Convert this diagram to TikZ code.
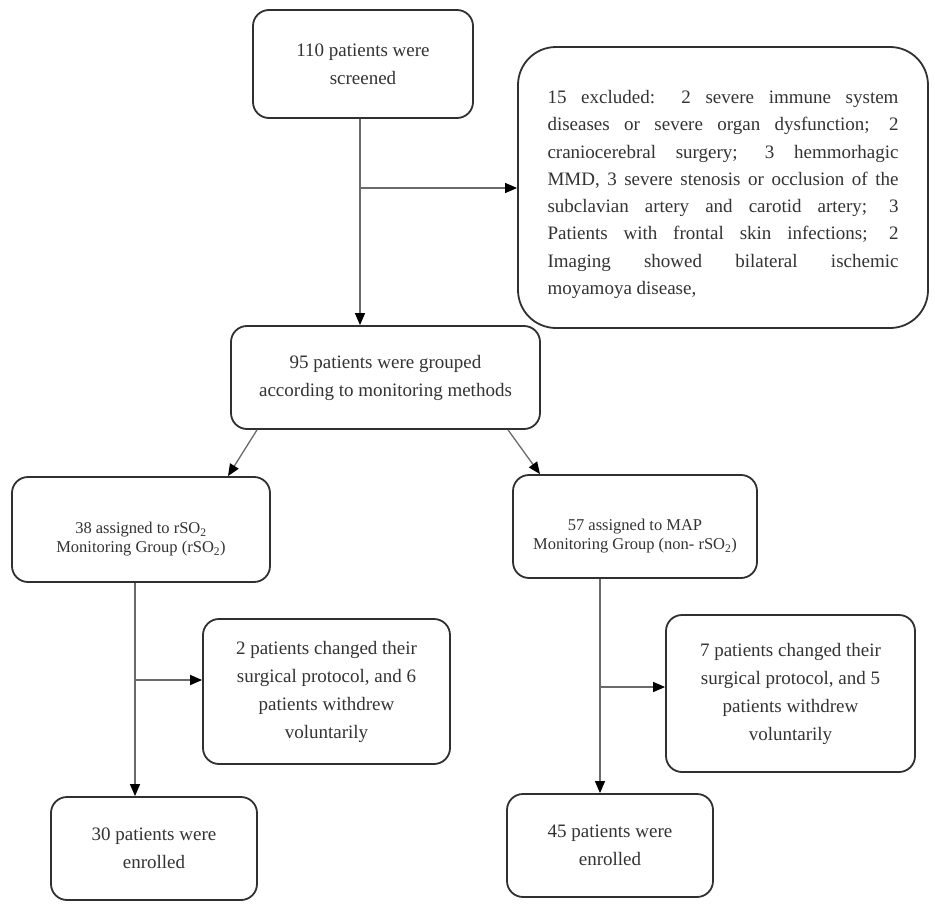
\documentclass[tikz,border=0pt]{standalone}
\usepackage{fontspec}
\setmainfont{Liberation Serif}
\usetikzlibrary{arrows.meta}
\definecolor{boxc}{HTML}{303030}
\definecolor{linec}{HTML}{6A6A6A}
\definecolor{txtc}{HTML}{333333}
\newcommand\mainfs{\fontsize{19}{28}\selectfont}
\newcommand\smallfs{\fontsize{16.5}{19}\selectfont}
\begin{document}
\begin{tikzpicture}[x=1pt,y=-1pt,
  box/.style={draw=boxc, line width=1.8pt, rounded corners=16pt, fill=white,
    align=center, font=\mainfs, text=txtc, inner sep=0pt},
  arr/.style={draw=linec, line width=1.3pt,
    -{Triangle[length=12pt,width=10pt,color=black]}},
  grp/.style={font=\smallfs, text=txtc, align=center, yshift=-10pt}]
\useasboundingbox (0,0) rectangle (935,907);

\node[box, minimum width=220pt, minimum height=108pt] (b1) at (363,64)
  {110 patients were\\screened};
\node[box, rounded corners=38pt, minimum width=410pt, minimum height=281pt,
  align=left, font=\fontsize{19}{27.3}\selectfont] (b2) at (723,187.5)
  {\rule{0pt}{27pt}\makebox[351pt][s]{15 excluded: 2 severe immune system}\\
   \makebox[351pt][s]{diseases or severe organ dysfunction; 2}\\
   \makebox[351pt][s]{craniocerebral surgery; 3 hemmorhagic}\\
   \makebox[351pt][s]{MMD, 3 severe stenosis or occlusion of the}\\
   \makebox[351pt][s]{subclavian artery and carotid artery; 3}\\
   \makebox[351pt][s]{Patients with frontal skin infections; 2}\\
   \makebox[351pt][s]{Imaging showed bilateral ischemic}\\
   moyamoya disease,};
\node[box, minimum width=309pt, minimum height=103pt] (b3) at (385.5,377.5)
  {95 patients were grouped\\according to monitoring methods};
\node[box, minimum width=258pt, minimum height=105pt,
  label={[grp]center:{38 assigned to rSO\textsubscript{2}\\Monitoring Group (rSO\textsubscript{2})}}]
  (b4) at (141,529.5) {};
\node[box, minimum width=244pt, minimum height=103pt,
  label={[grp]center:{57 assigned to MAP\\Monitoring Group (non- rSO\textsubscript{2})}}]
  (b5) at (635,526.5) {};
\node[box, minimum width=247pt, minimum height=145pt] (b6) at (326.5,691.5)
  {2 patients changed their\\surgical protocol, and 6\\patients withdrew\\voluntarily};
\node[box, minimum width=206pt, minimum height=103pt] (b7) at (154,848.5)
  {30 patients were\\enrolled};
\node[box, minimum width=249pt, minimum height=157pt] (b8) at (790.5,693.5)
  {7 patients changed their\\surgical protocol, and 5\\patients withdrew\\voluntarily};
\node[box, minimum width=206pt, minimum height=103pt] (b9) at (610,845.5)
  {45 patients were\\enrolled};

\coordinate (j1) at (360,188);
\coordinate (j2) at (135,680);
\coordinate (j3) at (600,687);

\draw[arr] (b1.south -| j1) -- (b3.north -| j1);
\draw[arr] (j1) -- (b2.west |- j1);
\draw[arr] ([xshift=-128.5pt]b3.south) -- ([xshift=87pt]b4.north);
\draw[arr] ([xshift=122.5pt]b3.south) -- ([xshift=-95pt]b5.north);
\draw[arr] (b4.south -| j2) -- (b7.north -| j2);
\draw[arr] (j2) -- (b6.west |- j2);
\draw[arr] (b5.south -| j3) -- (b9.north -| j3);
\draw[arr] (j3) -- (b8.west |- j3);
\end{tikzpicture}
\end{document}
